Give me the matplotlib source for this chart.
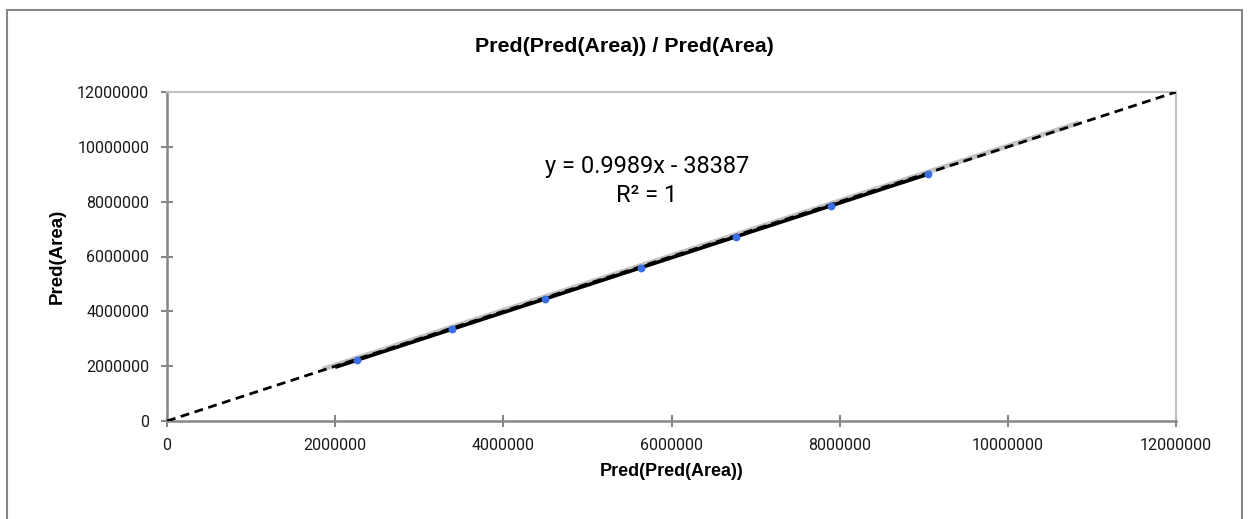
import matplotlib
matplotlib.use("Agg")
import matplotlib.pyplot as plt
from matplotlib.patches import Rectangle

# Data
x_pts = [2265000, 3390000, 4500000, 5640000, 6770000, 7900000, 9050000]
y_pts = [2225000, 3348000, 4457000, 5595000, 6724000, 7853000, 9002000]

trend_x = [2000000, 9050000]
trend_y = [1960000, 9002000]
gray_x = [1850000, 10850000]
gray_y = [1890000, 10880000]
ident_x = [0, 12000000]
ident_y = [0, 12000000]

ticks = [0, 2000000, 4000000, 6000000, 8000000, 10000000, 12000000]
tick_labels = ["0", "2000000", "4000000", "6000000", "8000000", "10000000", "12000000"]

title = "Pred(Pred(Area)) / Pred(Area)"
xlabel = "Pred(Pred(Area))"
ylabel = "Pred(Area)"
eq1 = "y = 0.9989x - 38387"
eq2 = "R² = 1"

W, H = 1248, 519
fig = plt.figure(figsize=(W / 100, H / 100), dpi=100)
fig.patch.set_facecolor("white")

# outer chart border
fig.patches.append(Rectangle((7 / W, -0.1), (1242 - 7) / W, 1 - 10 / H + 0.1,
                             transform=fig.transFigure, fill=False,
                             edgecolor="#878787", linewidth=1.5))

ax = fig.add_axes([167 / W, 1 - 421 / H, (1176 - 167) / W, (421 - 92) / H])
ax.set_xlim(0, 12000000)
ax.set_ylim(0, 12000000)

bold_font = ["Liberation Sans Narrow", "Liberation Sans", "DejaVu Sans"]
tick_font = ["Roboto", "DejaVu Sans"]

ax.plot(gray_x, gray_y, color="#c4c4c4", linewidth=3.5, solid_capstyle="butt", zorder=2)
ax.plot(trend_x, trend_y, color="black", linewidth=2.6, solid_capstyle="butt", zorder=3)
ax.plot(ident_x, ident_y, color="black", linewidth=2.0, linestyle=(0, (3.2, 2.0)), zorder=4)
ax.scatter(x_pts, y_pts, s=32, color="#3a6fe8", zorder=5, linewidths=0)

ax.set_xticks(ticks)
ax.set_xticklabels(tick_labels, fontfamily=tick_font, fontsize=11.5, color="#1a1a1a")
ax.set_yticks(ticks)
ax.set_yticklabels(tick_labels, fontfamily=tick_font, fontsize=11.5, color="#1a1a1a")
ax.tick_params(axis="both", direction="inout", length=8.6, width=1.5, color="#878787")
ax.tick_params(axis="x", pad=8)
ax.tick_params(axis="y", pad=8.5)

for s in ["left", "bottom"]:
    ax.spines[s].set_color("#878787")
    ax.spines[s].set_linewidth(1.8)
for s in ["top", "right"]:
    ax.spines[s].set_color("#c0c0c0")
    ax.spines[s].set_linewidth(1.5)

ax.set_xlabel(xlabel, fontfamily=bold_font, fontweight="bold", fontsize=13, labelpad=7)
ax.set_ylabel(ylabel, fontfamily=bold_font, fontweight="bold", fontsize=13.5, labelpad=8)

fig.text(624 / W, 1 - 46 / H, title, ha="center", va="center",
         fontfamily=bold_font, fontweight="bold", fontsize=15.4)

ax.text(647 / W, 1 - 167 / H, eq1, transform=fig.transFigure, ha="center", va="center",
        fontfamily=tick_font, fontsize=17)
ax.text(647 / W, 1 - 196 / H, eq2, transform=fig.transFigure, ha="center", va="center",
        fontfamily=tick_font, fontsize=17)

fig.savefig("out.png", dpi=100, facecolor="white")
